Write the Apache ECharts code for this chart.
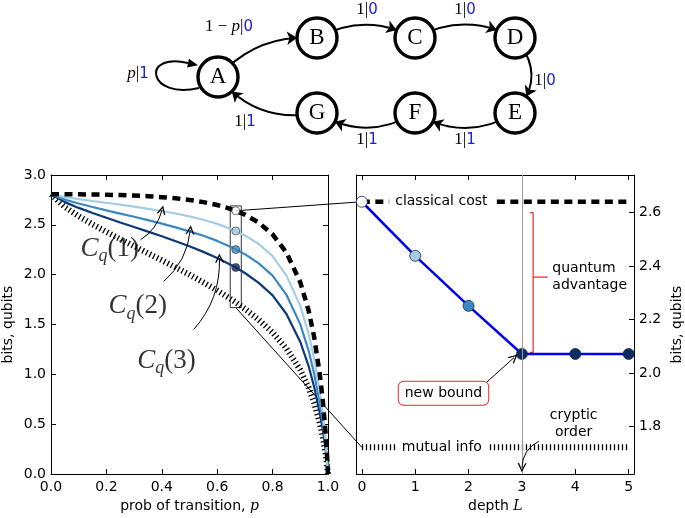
<!DOCTYPE html>
<html>
<head>
<meta charset="utf-8">
<script src="https://cdn.jsdelivr.net/npm/echarts@6/dist/echarts.min.js"></script>
<style>
    html, body { margin: 0; padding: 0; background: #fff; }
    #chart { width: 685px; height: 518px; }
</style>
</head>
<body>
<div id="chart"></div>
<script>
    // left panel: costs against transition probability p
    var pVals = [0, 0.05, 0.1, 0.15, 0.2, 0.25, 0.3, 0.35, 0.4, 0.45, 0.5, 0.55, 0.6, 0.65, 0.667, 0.7, 0.75, 0.8, 0.85, 0.9, 0.93, 0.95, 0.97, 0.98, 0.99, 0.995, 1];
    var classicalCost = [2.807, 2.807, 2.806, 2.805, 2.802, 2.799, 2.794, 2.787, 2.778, 2.766, 2.750, 2.728, 2.699, 2.658, 2.641, 2.602, 2.522, 2.404, 2.222, 1.924, 1.641, 1.376, 1.010, 0.768, 0.460, 0.265, 0];
    var mutualInfo = [2.807, 2.679, 2.586, 2.505, 2.429, 2.356, 2.286, 2.215, 2.145, 2.073, 2.000, 1.923, 1.842, 1.754, 1.723, 1.658, 1.548, 1.419, 1.259, 1.045, 0.868, 0.715, 0.516, 0.389, 0.231, 0.133, 0];
    var cq1 = [2.807, 2.779, 2.758, 2.739, 2.720, 2.702, 2.682, 2.661, 2.639, 2.614, 2.585, 2.551, 2.510, 2.459, 2.439, 2.394, 2.308, 2.187, 1.991, 1.687, 1.409, 1.158, 0.832, 0.632, 0.378, 0.217, 0];
    var cq2 = [2.807, 2.753, 2.714, 2.679, 2.645, 2.613, 2.581, 2.547, 2.512, 2.475, 2.435, 2.390, 2.339, 2.278, 2.255, 2.206, 2.113, 1.990, 1.798, 1.502, 1.239, 1.006, 0.714, 0.541, 0.323, 0.186, 0];
    var cq3 = [2.807, 2.728, 2.670, 2.619, 2.571, 2.524, 2.479, 2.432, 2.386, 2.336, 2.285, 2.229, 2.168, 2.098, 2.072, 2.017, 1.918, 1.793, 1.606, 1.326, 1.084, 0.874, 0.615, 0.465, 0.277, 0.159, 0];

    // right panel: cost against depth L at p = 2/3
    var pMarked = 0.667;
    var depthL = [0, 1, 2, 3, 4, 5];
    var cqDepth = [2.641, 2.439, 2.252, 2.072, 2.072, 2.072];
    var costAtP = 2.641;
    var infoAtP = 1.723;
    var crypticOrder = 3;

    // tick labels
    var rightXTicks = [0, 1, 2, 3, 4, 5];
    var rightYTicks = [1.8, 2.0, 2.2, 2.4, 2.6];

    // state machine
    var stateNames = ['A', 'B', 'C', 'D', 'E', 'F', 'G'];
    var transitions = [['A', 'B'], ['B', 'C'], ['C', 'D'], ['D', 'E'], ['E', 'F'], ['F', 'G'], ['G', 'A']];

    var cLight = '#a6cce4', cMid = '#3c88c3', cDark = '#0d3a78', cDot = '#0b2c62';
    var pointColors = ['#ffffff', cLight, cMid, cDot, cDot, cDot];
    var blueDigit = '#2020d0';
    var red = '#e8262a';
    var openArrow = 'path://M0,10 L5,0 L10,10 L8.4,10 L5,3 L1.6,10 Z';

    // layout of the diagram (pixels)
    var nodeX = [218, 317, 415, 515, 515, 415, 317];
    var nodeY = [77, 38, 38, 38, 113, 113, 113];
    var edgeBend = [0.25, 0.27, 0.27, 0.44, 0.3, 0.3, 0.3];

    function pairs(xs, ys) {
        return xs.map(function (x, i) { return [x, ys[i]]; });
    }

    var tickFont = { color: '#000', fontSize: 14, fontFamily: 'DejaVu Sans' };
    var frameLine = { show: true, onZero: false, lineStyle: { color: '#000', width: 1 } };
    var tickIn = { show: true, inside: true, length: 5, lineStyle: { color: '#000', width: 1 } };
    var nameStyle = {
        color: '#000', fontSize: 14, fontFamily: 'DejaVu Sans',
        rich: { i: { fontFamily: 'DejaVu Serif', fontStyle: 'italic', fontSize: 14 } }
    };
    var cqRich = {
        c: { fontFamily: 'Liberation Serif', fontStyle: 'italic', fontSize: 27, lineHeight: 30, color: '#000' },
        q: { fontFamily: 'Liberation Serif', fontStyle: 'italic', fontSize: 18, lineHeight: 18, padding: [15, 0, 0, 0], color: '#000' },
        n: { fontFamily: 'Liberation Serif', fontSize: 27, lineHeight: 30, color: '#000' }
    };
    var edgeRich = {
        i: { fontFamily: 'Liberation Serif', fontStyle: 'italic', fontSize: 17, fill: '#000' },
        b: { fontFamily: 'DejaVu Sans', fontSize: 15, fill: blueDigit }
    };

    function edgeText(id, txt, x, y) {
        return {
            id: id, type: 'text', z: 10, silent: true,
            style: {
                text: txt, x: x, y: y, fill: '#000', align: 'center', verticalAlign: 'middle',
                font: '17px "Liberation Serif"', rich: edgeRich
            }
        };
    }

    var option = {
        animation: false,
        backgroundColor: '#fff',
        textStyle: { fontFamily: 'DejaVu Sans' },
        grid: [
            { left: 50, top: 175, width: 278, height: 300 },
            { left: 356.5, top: 175, width: 279, height: 300 }
        ],
        xAxis: [
            {
                type: 'value', gridIndex: 0, position: 'bottom', min: 0, max: 1, interval: 0.2,
                axisLine: frameLine, axisTick: tickIn, splitLine: { show: false },
                axisLabel: Object.assign({ margin: 6, formatter: function (v) { return v.toFixed(1); } }, tickFont),
                name: 'prob of transition, {i|p}', nameLocation: 'middle', nameGap: 20, nameTextStyle: nameStyle
            },
            {
                type: 'value', gridIndex: 0, position: 'top', min: 0, max: 1, interval: 0.2,
                axisLine: frameLine, axisTick: tickIn, splitLine: { show: false }, axisLabel: { show: false }
            },
            {
                type: 'value', gridIndex: 1, position: 'bottom', min: -0.1, max: 5.1,
                axisLine: frameLine, splitLine: { show: false },
                axisTick: Object.assign({ customValues: rightXTicks }, tickIn),
                axisLabel: Object.assign({ margin: 6, customValues: rightXTicks }, tickFont),
                name: 'depth {i|L}', nameLocation: 'middle', nameGap: 20, nameTextStyle: nameStyle
            },
            {
                type: 'value', gridIndex: 1, position: 'top', min: -0.1, max: 5.1,
                axisLine: frameLine, splitLine: { show: false },
                axisTick: Object.assign({ customValues: rightXTicks }, tickIn),
                axisLabel: { show: false, customValues: rightXTicks }
            }
        ],
        yAxis: [
            {
                type: 'value', gridIndex: 0, position: 'left', min: 0, max: 3, interval: 0.5,
                axisLine: frameLine, axisTick: tickIn, splitLine: { show: false },
                axisLabel: Object.assign({ margin: 5, formatter: function (v) { return v.toFixed(1); } }, tickFont),
                name: 'bits, qubits', nameLocation: 'middle', nameGap: 36, nameRotate: 90, nameTextStyle: nameStyle
            },
            {
                type: 'value', gridIndex: 0, position: 'right', min: 0, max: 3, interval: 0.5,
                axisLine: frameLine, axisTick: tickIn, splitLine: { show: false }, axisLabel: { show: false }
            },
            {
                type: 'value', gridIndex: 1, position: 'right', min: 1.623, max: 2.741,
                axisLine: frameLine, splitLine: { show: false },
                axisTick: Object.assign({ customValues: rightYTicks }, tickIn),
                axisLabel: Object.assign({ margin: 5, customValues: rightYTicks, formatter: function (v) { return v.toFixed(1); } }, tickFont),
                name: 'bits, qubits', nameLocation: 'middle', nameGap: 36, nameRotate: 90, nameTextStyle: nameStyle
            },
            {
                type: 'value', gridIndex: 1, position: 'left', min: 1.623, max: 2.741,
                axisLine: frameLine, axisTick: { show: false }, splitLine: { show: false }, axisLabel: { show: false }
            }
        ],
        graphic: {
            elements: [
                {
                    id: 'selfLoop', type: 'bezierCurve', z: 10, silent: true,
                    shape: { x1: 199, y1: 88, cpx1: 148, cpy1: 100, cpx2: 140, cpy2: 52, x2: 188, y2: 63 },
                    style: { stroke: '#000', lineWidth: 2, fill: null }
                },
                {
                    id: 'selfLoopHead', type: 'polygon', z: 10, silent: true,
                    shape: { points: [[198, 65.3], [187.1, 67.4], [188.9, 58.8]] },
                    style: { fill: '#000' }
                },
                edgeText('lAB', '1 − {i|p}|{b|0}', 229, 27),
                edgeText('lAA', '{i|p}|{b|1}', 138, 74),
                edgeText('lBC', '1|{b|0}', 367, 10),
                edgeText('lCD', '1|{b|0}', 465, 10),
                edgeText('lDE', '1|{b|0}', 545, 81),
                edgeText('lEF', '1|{b|1}', 465, 140),
                edgeText('lFG', '1|{b|1}', 367, 140),
                edgeText('lGA', '1|{b|1}', 245, 122)
            ]
        },
        series: [
            // ---- top: state machine ----
            {
                type: 'graph', layout: 'none', left: 218, top: 38, width: 297, height: 75,
                roam: false, silent: true, z: 3,
                symbol: 'circle', symbolSize: 40,
                itemStyle: { color: '#fff', borderColor: '#000', borderWidth: 3.4 },
                label: { show: true, position: 'inside', color: '#000', fontFamily: 'Liberation Serif', fontSize: 23 },
                edgeSymbol: ['none', 'arrow'], edgeSymbolSize: 10,
                lineStyle: { color: '#000', width: 2, opacity: 1 },
                emphasis: { disabled: true },
                data: stateNames.map(function (n, i) { return { name: n, x: nodeX[i], y: nodeY[i] }; }),
                links: transitions.map(function (t, i) {
                    return { source: t[0], target: t[1], lineStyle: { curveness: edgeBend[i] } };
                })
            },
            // ---- left panel ----
            {
                type: 'line', xAxisIndex: 0, yAxisIndex: 0, showSymbol: false, z: 2,
                data: pairs(pVals, mutualInfo),
                lineStyle: { color: '#000', width: 6, type: [1.3, 2.7], cap: 'butt' }
            },
            {
                type: 'line', xAxisIndex: 0, yAxisIndex: 0, showSymbol: false, z: 3,
                data: pairs(pVals, cq3),
                lineStyle: { color: cDark, width: 2.2 }
            },
            {
                type: 'line', xAxisIndex: 0, yAxisIndex: 0, showSymbol: false, z: 3,
                data: pairs(pVals, cq2),
                lineStyle: { color: cMid, width: 2.2 }
            },
            {
                type: 'line', xAxisIndex: 0, yAxisIndex: 0, showSymbol: false, z: 3,
                data: pairs(pVals, cq1),
                lineStyle: { color: cLight, width: 2.2 }
            },
            {
                type: 'line', xAxisIndex: 0, yAxisIndex: 0, showSymbol: false, z: 4,
                data: pairs(pVals, classicalCost),
                lineStyle: { color: '#000', width: 4.5, type: [8, 5.5], cap: 'butt' }
            },
            {
                type: 'scatter', xAxisIndex: 0, yAxisIndex: 0, z: 6, symbolSize: 8,
                data: cqDepth.slice(0, 4).map(function (v, i) {
                    return { value: [pMarked, v], itemStyle: { color: pointColors[i], borderColor: '#333', borderWidth: 0.8 } };
                }),
                markArea: {
                    silent: true,
                    itemStyle: { color: 'rgba(0,0,0,0)', borderColor: '#333', borderWidth: 1 },
                    data: [[{ coord: [0.647, 1.67] }, { coord: [0.687, 2.69] }]]
                }
            },
            {
                type: 'scatter', xAxisIndex: 0, yAxisIndex: 0, z: 7, symbolSize: 0, silent: true,
                label: { show: true, position: 'inside', rich: cqRich },
                data: [
                    { value: [0.212, 2.26], label: { formatter: '{c|C}{q|q}{n|(1)}' } },
                    { value: [0.313, 1.683], label: { formatter: '{c|C}{q|q}{n|(2)}' } },
                    { value: [0.417, 1.133], label: { formatter: '{c|C}{q|q}{n|(3)}' } }
                ]
            },
            {
                type: 'lines', coordinateSystem: 'cartesian2d', xAxisIndex: 0, yAxisIndex: 0, z: 7, silent: true,
                symbol: ['none', openArrow], symbolSize: 9,
                lineStyle: { color: '#000', width: 1, opacity: 1, curveness: -0.2 },
                data: [
                    { coords: [[0.323, 2.35], [0.401, 2.65]] },
                    { coords: [[0.407, 1.933], [0.503, 2.45]] },
                    { coords: [[0.515, 1.45], [0.608, 2.167]] }
                ]
            },
            // ---- right panel ----
            {
                type: 'line', xAxisIndex: 2, yAxisIndex: 2, showSymbol: false, z: 2,
                data: [[depthL[0], infoAtP], [depthL[5], infoAtP]],
                lineStyle: { color: '#000', width: 6, type: [1.3, 2.7], cap: 'butt' }
            },
            {
                type: 'line', xAxisIndex: 2, yAxisIndex: 2, showSymbol: false, z: 2,
                data: [[depthL[0], costAtP], [depthL[5], costAtP]],
                lineStyle: { color: '#000', width: 4.5, type: [8, 5.5], cap: 'butt' }
            },
            {
                type: 'line', xAxisIndex: 2, yAxisIndex: 2, z: 4, symbol: 'circle', symbolSize: 11,
                data: depthL.map(function (d, i) {
                    return { value: [d, cqDepth[i]], itemStyle: { color: pointColors[i], borderColor: '#1b2a44', borderWidth: 0.8 } };
                }),
                lineStyle: { color: '#0000ee', width: 2.5 },
                markLine: {
                    silent: true, symbol: ['none', 'none'], label: { show: false },
                    lineStyle: { color: '#999', width: 1, type: 'solid' },
                    data: [{ xAxis: crypticOrder }]
                }
            },
            {
                // quantum advantage bracket
                type: 'line', xAxisIndex: 2, yAxisIndex: 2, z: 3, showSymbol: false, silent: true,
                data: [[3.15, 2.6], [3.21, 2.6], [3.21, 2.078], [3.15, 2.078], [3.15, '-'], [3.21, 2.359], [3.48, 2.359]],
                lineStyle: { color: red, width: 1.2 }
            },
            {
                type: 'lines', coordinateSystem: 'cartesian2d', xAxisIndex: 2, yAxisIndex: 2, z: 7, silent: true,
                symbol: ['none', openArrow], symbolSize: 9,
                lineStyle: { color: '#000', width: 1, opacity: 1 },
                data: [
                    { coords: [[2.015, 1.908], [2.854, 2.059]], lineStyle: { curveness: 0 } },
                    { coords: [[3.32, 1.746], [3.0, 1.647]], lineStyle: { curveness: -0.3 } }
                ]
            }
        ]
    };

    var chart = echarts.init(document.getElementById('chart'));
    chart.setOption(option);

    // annotation texts of the right panel, placed at data coordinates
    var rightNotes = [
        { id: 'tCost', text: 'classical cost', at: [1.49, costAtP], align: 'center', extra: { backgroundColor: '#fff', padding: [2, 6] } },
        { id: 'tInfo', text: 'mutual info', at: [1.50, infoAtP], align: 'center', extra: { backgroundColor: '#fff', padding: [2, 6] } },
        { id: 'tAdv', text: 'quantum\nadvantage', at: [3.57, 2.359], align: 'left', extra: {} },
        { id: 'tBound', text: 'new bound', at: [1.53, 1.925], align: 'center',
          extra: { backgroundColor: '#fff', borderColor: red, borderWidth: 1, borderRadius: 5, padding: [3, 6] } },
        { id: 'tOrder', text: 'cryptic\norder', at: [3.97, 1.812], align: 'center', extra: {} }
    ];
    var extraEls = rightNotes.map(function (n) {
        var px = chart.convertToPixel({ xAxisIndex: 2, yAxisIndex: 2 }, n.at);
        return {
            id: n.id, type: 'text', z: 20, silent: true,
            style: Object.assign({
                text: n.text, x: px[0], y: px[1], align: n.align, verticalAlign: 'middle',
                fill: '#000', font: '14px "DejaVu Sans"', lineHeight: 17
            }, n.extra)
        };
    });

    // connectors between the marked p on the left and the depth panel on the right
    var a1 = chart.convertToPixel({ xAxisIndex: 0, yAxisIndex: 0 }, [pMarked, costAtP]);
    var b1 = chart.convertToPixel({ xAxisIndex: 2, yAxisIndex: 2 }, [depthL[0], costAtP]);
    var a2 = chart.convertToPixel({ xAxisIndex: 0, yAxisIndex: 0 }, [pMarked, 1.67]);
    var b2 = chart.convertToPixel({ xAxisIndex: 2, yAxisIndex: 2 }, [depthL[0], infoAtP]);
    extraEls.push(
        { id: 'conn1', type: 'line', z: 1, silent: true, shape: { x1: a1[0], y1: a1[1], x2: b1[0], y2: b1[1] }, style: { stroke: '#000', lineWidth: 1 } },
        { id: 'conn2', type: 'line', z: 1, silent: true, shape: { x1: a2[0], y1: a2[1], x2: b2[0], y2: b2[1] }, style: { stroke: '#000', lineWidth: 1 } }
    );
    chart.setOption({ graphic: { elements: extraEls } });
</script>
</body>
</html>
